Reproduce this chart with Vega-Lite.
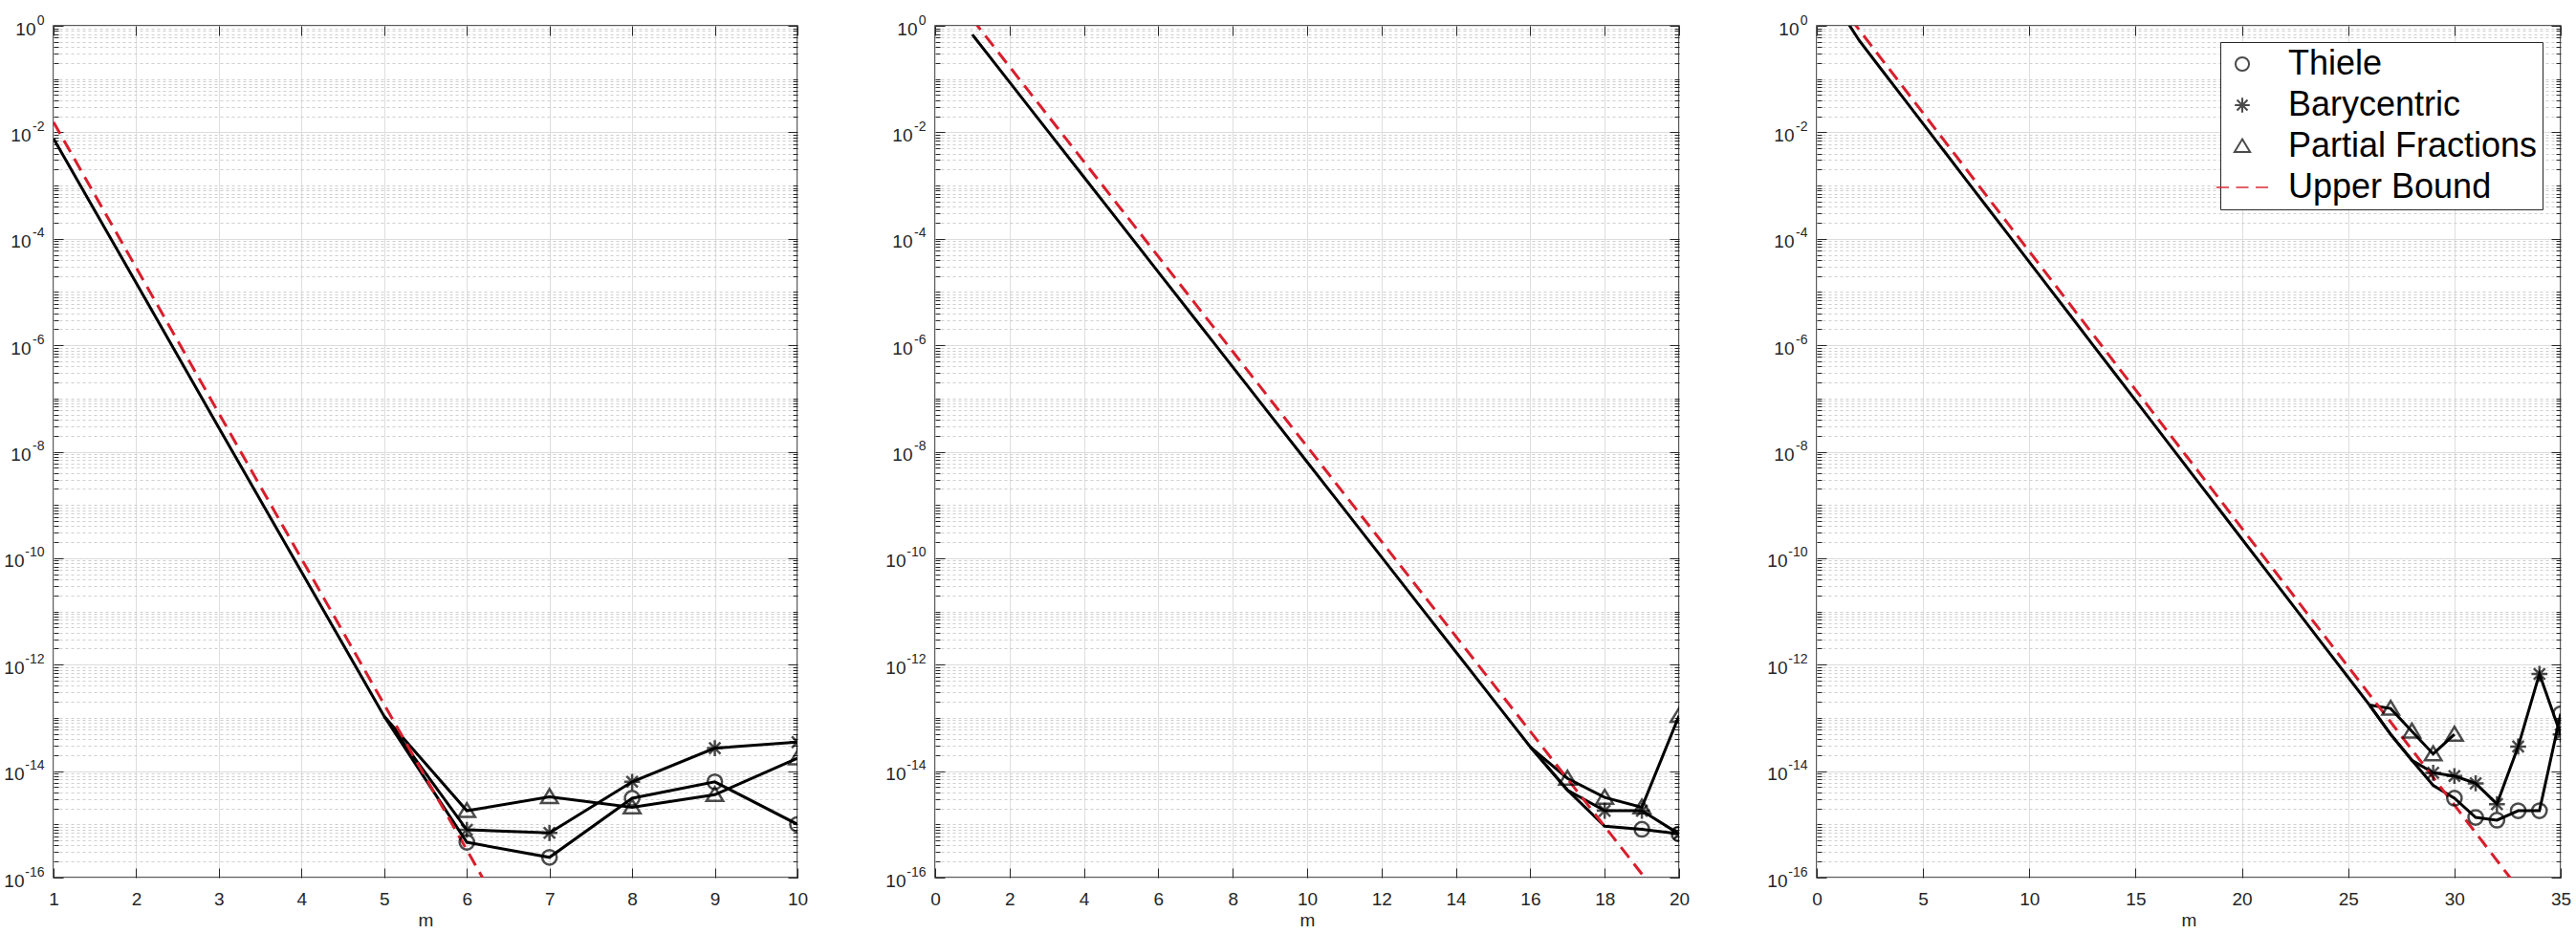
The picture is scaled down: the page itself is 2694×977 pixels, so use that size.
{
  "$schema": "https://vega.github.io/schema/vega-lite/v6.json",
  "background": "#ffffff",
  "padding": {"left": 3, "top": 13, "right": 10, "bottom": 5},
  "bounds": "flush",
  "spacing": 144,
  "config": {
    "view": {"stroke": "#262626", "strokeWidth": 1.5},
    "font": "Liberation Sans",
    "axis": {"labelFont": "Liberation Sans", "labelFontSize": 19, "labelColor": "#262626", "titleFont": "Liberation Sans", "titleFontSize": 19, "titleFontWeight": "normal", "titleColor": "#262626", "tickColor": "#262626", "tickWidth": 1, "domain": false, "labelFlush": false, "labelOverlap": false, "gridColor": "#dedede", "gridWidth": 1}
  },
  "datasets": {
    "curves": [
      {"panel":1,"method":"All","m":1,"err":7.6e-3},{"panel":1,"method":"All","m":2,"err":1.48e-5},{"panel":1,"method":"All","m":3,"err":2.82e-8},{"panel":1,"method":"All","m":4,"err":5.5e-11},{"panel":1,"method":"All","m":5,"err":1.07e-13},
      {"panel":1,"method":"Thiele","m":5,"err":1.07e-13},{"panel":1,"method":"Thiele","m":6,"err":4.6e-16},{"panel":1,"method":"Thiele","m":7,"err":2.4e-16},{"panel":1,"method":"Thiele","m":8,"err":3.1e-15},{"panel":1,"method":"Thiele","m":9,"err":6.3e-15},{"panel":1,"method":"Thiele","m":10,"err":1.0e-15},
      {"panel":1,"method":"Barycentric","m":5,"err":1.07e-13},{"panel":1,"method":"Barycentric","m":6,"err":7.9e-16},{"panel":1,"method":"Barycentric","m":7,"err":6.9e-16},{"panel":1,"method":"Barycentric","m":8,"err":6.3e-15},{"panel":1,"method":"Barycentric","m":9,"err":2.7e-14},{"panel":1,"method":"Barycentric","m":10,"err":3.5e-14},
      {"panel":1,"method":"Partial Fractions","m":5,"err":1.07e-13},{"panel":1,"method":"Partial Fractions","m":6,"err":1.8e-15},{"panel":1,"method":"Partial Fractions","m":7,"err":3.3e-15},{"panel":1,"method":"Partial Fractions","m":8,"err":2.1e-15},{"panel":1,"method":"Partial Fractions","m":9,"err":3.6e-15},{"panel":1,"method":"Partial Fractions","m":10,"err":1.75e-14},
      {"panel":2,"method":"All","m":1,"err":0.684},{"panel":2,"method":"All","m":2,"err":8.77e-2},{"panel":2,"method":"All","m":3,"err":1.12e-2},{"panel":2,"method":"All","m":4,"err":1.44e-3},{"panel":2,"method":"All","m":5,"err":1.85e-4},{"panel":2,"method":"All","m":6,"err":2.37e-5},{"panel":2,"method":"All","m":7,"err":3.04e-6},{"panel":2,"method":"All","m":8,"err":3.9e-7},{"panel":2,"method":"All","m":9,"err":5.0e-8},{"panel":2,"method":"All","m":10,"err":6.41e-9},{"panel":2,"method":"All","m":11,"err":8.22e-10},{"panel":2,"method":"All","m":12,"err":1.05e-10},{"panel":2,"method":"All","m":13,"err":1.35e-11},{"panel":2,"method":"All","m":14,"err":1.73e-12},{"panel":2,"method":"All","m":15,"err":2.22e-13},{"panel":2,"method":"All","m":16,"err":2.85e-14},
      {"panel":2,"method":"Thiele","m":16,"err":2.85e-14},{"panel":2,"method":"Thiele","m":17,"err":4.4e-15},{"panel":2,"method":"Thiele","m":18,"err":9.2e-16},{"panel":2,"method":"Thiele","m":19,"err":8.1e-16},{"panel":2,"method":"Thiele","m":20,"err":6.6e-16},
      {"panel":2,"method":"Barycentric","m":16,"err":2.85e-14},{"panel":2,"method":"Barycentric","m":17,"err":4.4e-15},{"panel":2,"method":"Barycentric","m":18,"err":1.8e-15},{"panel":2,"method":"Barycentric","m":19,"err":1.8e-15},{"panel":2,"method":"Barycentric","m":20,"err":6.6e-16},
      {"panel":2,"method":"Partial Fractions","m":16,"err":2.85e-14},{"panel":2,"method":"Partial Fractions","m":17,"err":7.3e-15},{"panel":2,"method":"Partial Fractions","m":18,"err":3.2e-15},{"panel":2,"method":"Partial Fractions","m":19,"err":2.1e-15},{"panel":2,"method":"Partial Fractions","m":20,"err":1.1e-13},
      {"panel":3,"method":"All","m":1,"err":2.19},{"panel":3,"method":"All","m":2,"err":0.527},{"panel":3,"method":"All","m":3,"err":0.159},{"panel":3,"method":"All","m":4,"err":4.81e-2},{"panel":3,"method":"All","m":5,"err":1.45e-2},{"panel":3,"method":"All","m":6,"err":4.39e-3},{"panel":3,"method":"All","m":7,"err":1.32e-3},{"panel":3,"method":"All","m":8,"err":4.0e-4},{"panel":3,"method":"All","m":9,"err":1.21e-4},{"panel":3,"method":"All","m":10,"err":3.65e-5},{"panel":3,"method":"All","m":11,"err":1.1e-5},{"panel":3,"method":"All","m":12,"err":3.33e-6},{"panel":3,"method":"All","m":13,"err":1.0e-6},{"panel":3,"method":"All","m":14,"err":3.03e-7},{"panel":3,"method":"All","m":15,"err":9.16e-8},{"panel":3,"method":"All","m":16,"err":2.77e-8},{"panel":3,"method":"All","m":17,"err":8.36e-9},{"panel":3,"method":"All","m":18,"err":2.52e-9},{"panel":3,"method":"All","m":19,"err":7.62e-10},{"panel":3,"method":"All","m":20,"err":2.3e-10},{"panel":3,"method":"All","m":21,"err":6.95e-11},{"panel":3,"method":"All","m":22,"err":2.1e-11},{"panel":3,"method":"All","m":23,"err":6.34e-12},{"panel":3,"method":"All","m":24,"err":1.91e-12},{"panel":3,"method":"All","m":25,"err":5.78e-13},{"panel":3,"method":"All","m":26,"err":1.75e-13},
      {"panel":3,"method":"Thiele","m":26,"err":1.75e-13},{"panel":3,"method":"Thiele","m":27,"err":4.9e-14},{"panel":3,"method":"Thiele","m":28,"err":1.6e-14},{"panel":3,"method":"Thiele","m":29,"err":5.4e-15},{"panel":3,"method":"Thiele","m":30,"err":3.1e-15},{"panel":3,"method":"Thiele","m":31,"err":1.35e-15},{"panel":3,"method":"Thiele","m":32,"err":1.2e-15},{"panel":3,"method":"Thiele","m":33,"err":1.8e-15},{"panel":3,"method":"Thiele","m":34,"err":1.8e-15},{"panel":3,"method":"Thiele","m":35,"err":1.2e-13},
      {"panel":3,"method":"Barycentric","m":26,"err":1.75e-13},{"panel":3,"method":"Barycentric","m":27,"err":4.9e-14},{"panel":3,"method":"Barycentric","m":28,"err":1.6e-14},{"panel":3,"method":"Barycentric","m":29,"err":9.3e-15},{"panel":3,"method":"Barycentric","m":30,"err":8.1e-15},{"panel":3,"method":"Barycentric","m":31,"err":5.9e-15},{"panel":3,"method":"Barycentric","m":32,"err":2.4e-15},{"panel":3,"method":"Barycentric","m":33,"err":2.9e-14},{"panel":3,"method":"Barycentric","m":34,"err":6.7e-13},{"panel":3,"method":"Barycentric","m":35,"err":4.9e-14},
      {"panel":3,"method":"Partial Fractions","m":26,"err":1.75e-13},{"panel":3,"method":"Partial Fractions","m":27,"err":1.5e-13},{"panel":3,"method":"Partial Fractions","m":28,"err":5.6e-14},{"panel":3,"method":"Partial Fractions","m":29,"err":2.1e-14},{"panel":3,"method":"Partial Fractions","m":30,"err":4.9e-14}
    ],
    "marks": [
      {"panel":1,"method":"Thiele","m":6,"err":4.6e-16},{"panel":1,"method":"Thiele","m":7,"err":2.4e-16},{"panel":1,"method":"Thiele","m":8,"err":3.1e-15},{"panel":1,"method":"Thiele","m":9,"err":6.3e-15},{"panel":1,"method":"Thiele","m":10,"err":1.0e-15},
      {"panel":1,"method":"Barycentric","m":6,"err":7.9e-16},{"panel":1,"method":"Barycentric","m":7,"err":6.9e-16},{"panel":1,"method":"Barycentric","m":8,"err":6.3e-15},{"panel":1,"method":"Barycentric","m":9,"err":2.7e-14},{"panel":1,"method":"Barycentric","m":10,"err":3.5e-14},
      {"panel":1,"method":"Partial Fractions","m":6,"err":1.8e-15},{"panel":1,"method":"Partial Fractions","m":7,"err":3.3e-15},{"panel":1,"method":"Partial Fractions","m":8,"err":2.1e-15},{"panel":1,"method":"Partial Fractions","m":9,"err":3.6e-15},{"panel":1,"method":"Partial Fractions","m":10,"err":1.75e-14},
      {"panel":2,"method":"Thiele","m":19,"err":8.1e-16},{"panel":2,"method":"Thiele","m":20,"err":6.6e-16},
      {"panel":2,"method":"Barycentric","m":18,"err":1.8e-15},{"panel":2,"method":"Barycentric","m":19,"err":1.8e-15},{"panel":2,"method":"Barycentric","m":20,"err":6.6e-16},
      {"panel":2,"method":"Partial Fractions","m":17,"err":7.3e-15},{"panel":2,"method":"Partial Fractions","m":18,"err":3.2e-15},{"panel":2,"method":"Partial Fractions","m":19,"err":2.1e-15},{"panel":2,"method":"Partial Fractions","m":20,"err":1.1e-13},
      {"panel":3,"method":"Thiele","m":30,"err":3.1e-15},{"panel":3,"method":"Thiele","m":31,"err":1.35e-15},{"panel":3,"method":"Thiele","m":32,"err":1.2e-15},{"panel":3,"method":"Thiele","m":33,"err":1.8e-15},{"panel":3,"method":"Thiele","m":34,"err":1.8e-15},{"panel":3,"method":"Thiele","m":35,"err":1.2e-13},
      {"panel":3,"method":"Barycentric","m":29,"err":9.3e-15},{"panel":3,"method":"Barycentric","m":30,"err":8.1e-15},{"panel":3,"method":"Barycentric","m":31,"err":5.9e-15},{"panel":3,"method":"Barycentric","m":32,"err":2.4e-15},{"panel":3,"method":"Barycentric","m":33,"err":2.9e-14},{"panel":3,"method":"Barycentric","m":34,"err":6.7e-13},{"panel":3,"method":"Barycentric","m":35,"err":4.9e-14},
      {"panel":3,"method":"Partial Fractions","m":27,"err":1.5e-13},{"panel":3,"method":"Partial Fractions","m":28,"err":5.6e-14},{"panel":3,"method":"Partial Fractions","m":29,"err":2.1e-14},{"panel":3,"method":"Partial Fractions","m":30,"err":4.9e-14}
    ],
    "bound": [
      {"panel":1,"m":1,"err":1.55e-2},{"panel":1,"m":2,"err":2.86e-5},{"panel":1,"m":3,"err":5.27e-8},{"panel":1,"m":4,"err":9.73e-11},{"panel":1,"m":5,"err":1.79e-13},{"panel":1,"m":6,"err":3.31e-16},{"panel":1,"m":7,"err":6.1e-19},
      {"panel":2,"m":1,"err":1.33},{"panel":2,"m":2,"err":0.171},{"panel":2,"m":3,"err":2.19e-2},{"panel":2,"m":4,"err":2.81e-3},{"panel":2,"m":5,"err":3.61e-4},{"panel":2,"m":6,"err":4.62e-5},{"panel":2,"m":7,"err":5.93e-6},{"panel":2,"m":8,"err":7.6e-7},{"panel":2,"m":9,"err":9.75e-8},{"panel":2,"m":10,"err":1.25e-8},{"panel":2,"m":11,"err":1.6e-9},{"panel":2,"m":12,"err":2.06e-10},{"panel":2,"m":13,"err":2.64e-11},{"panel":2,"m":14,"err":3.38e-12},{"panel":2,"m":15,"err":4.34e-13},{"panel":2,"m":16,"err":5.56e-14},{"panel":2,"m":17,"err":7.13e-15},{"panel":2,"m":18,"err":9.14e-16},{"panel":2,"m":19,"err":1.17e-16},{"panel":2,"m":20,"err":1.5e-17},
      {"panel":3,"m":1,"err":2.77},{"panel":3,"m":2,"err":0.836},{"panel":3,"m":3,"err":0.252},{"panel":3,"m":4,"err":7.62e-2},{"panel":3,"m":5,"err":2.3e-2},{"panel":3,"m":6,"err":6.95e-3},{"panel":3,"m":7,"err":2.1e-3},{"panel":3,"m":8,"err":6.34e-4},{"panel":3,"m":9,"err":1.91e-4},{"panel":3,"m":10,"err":5.78e-5},{"panel":3,"m":11,"err":1.75e-5},{"panel":3,"m":12,"err":5.27e-6},{"panel":3,"m":13,"err":1.59e-6},{"panel":3,"m":14,"err":4.81e-7},{"panel":3,"m":15,"err":1.45e-7},{"panel":3,"m":16,"err":4.39e-8},{"panel":3,"m":17,"err":1.32e-8},{"panel":3,"m":18,"err":4.0e-9},{"panel":3,"m":19,"err":1.21e-9},{"panel":3,"m":20,"err":3.65e-10},{"panel":3,"m":21,"err":1.1e-10},{"panel":3,"m":22,"err":3.33e-11},{"panel":3,"m":23,"err":1.0e-11},{"panel":3,"m":24,"err":3.03e-12},{"panel":3,"m":25,"err":9.16e-13},{"panel":3,"m":26,"err":2.77e-13},{"panel":3,"m":27,"err":8.36e-14},{"panel":3,"m":28,"err":2.52e-14},{"panel":3,"m":29,"err":7.62e-15},{"panel":3,"m":30,"err":2.3e-15},{"panel":3,"m":31,"err":6.95e-16},{"panel":3,"m":32,"err":2.1e-16},{"panel":3,"m":33,"err":6.34e-17}
    ]
  },
  "resolve": {"scale": {"x": "independent", "y": "independent", "shape": "independent", "stroke": "independent"}},
  "hconcat": [
    {
      "width": 778, "height": 891,
      "resolve": {"axis": {"x": "independent", "y": "independent"}},
      "layer": [
        {
          "data": {"name": "curves"},
          "transform": [{"filter": "datum.panel === 1 && datum.method === 'All'"}],
          "mark": {"type": "line", "clip": true, "color": "#000000", "strokeWidth": 3},
          "encoding": {
            "x": {"field": "m", "type": "quantitative", "scale": {"domain": [1, 10], "nice": false, "zero": false}, "axis": {"orient": "bottom", "values": [1,2,3,4,5,6,7,8,9,10], "ticks": false, "grid": false, "labelPadding": 13, "title": "m", "titlePadding": 3, "labelFlush": false, "labelOverlap": false}},
            "y": {"field": "err", "type": "quantitative", "scale": {"type": "log", "domain": [1e-16, 1], "nice": false}, "axis": {"orient": "left", "values": [1e-16,1e-14,1e-12,1e-10,1e-8,1e-6,1e-4,1e-2,1], "labelExpr": "'10'", "ticks": false, "grid": false, "labelAlign": "right", "labelBaseline": "middle", "labelOffset": 3, "labelPadding": {"condition": [{"test": "datum.value > 0.5", "value": 19}, {"test": "datum.value > 5e-10", "value": 24}], "value": 31}, "title": null, "labelFlush": false, "labelOverlap": false}}
          }
        },
        {
          "data": {"name": "curves"},
          "transform": [{"filter": "datum.panel === 1 && datum.method !== 'All'"}],
          "mark": {"type": "line", "clip": true, "color": "#000000", "strokeWidth": 3},
          "encoding": {
            "x": {"field": "m", "type": "quantitative", "scale": {"domain": [1, 10], "nice": false, "zero": false}, "axis": {"orient": "top", "values": [1,2,3,4,5,6,7,8,9,10], "grid": false, "tickSize": -10, "labels": false, "title": null}},
            "y": {"field": "err", "type": "quantitative", "scale": {"type": "log", "domain": [1e-16, 1], "nice": false}, "axis": {"orient": "right", "tickCount": 200, "grid": false, "labels": false, "title": null, "tickSize": {"condition": {"test": "abs(log(datum.value)/LN10 - round(log(datum.value)/LN10)) < 0.001 && round(log(datum.value)/LN10) % 2 === 0", "value": -10}, "value": -5}}},
            "detail": {"field": "method"}
          }
        },
        {
          "data": {"name": "bound"},
          "transform": [{"filter": "datum.panel === 1"}],
          "mark": {"type": "line", "clip": true, "color": "#d81e2c", "strokeWidth": 3, "strokeDash": [14, 8]},
          "encoding": {
            "x": {"field": "m", "type": "quantitative", "scale": {"domain": [1, 10], "nice": false, "zero": false}, "axis": {"orient": "bottom", "values": [1,2,3,4,5,6,7,8,9,10], "grid": true, "tickSize": -10, "labels": false, "title": null}},
            "y": {"field": "err", "type": "quantitative", "scale": {"type": "log", "domain": [1e-16, 1], "nice": false}, "axis": {"orient": "left", "tickCount": 200, "grid": true, "labels": false, "title": null, "gridDash": {"condition": {"test": "abs(log(datum.value)/LN10 - round(log(datum.value)/LN10)) < 0.001 && round(log(datum.value)/LN10) % 2 === 0", "value": []}, "value": [3, 3]}, "gridColor": {"condition": {"test": "abs(log(datum.value)/LN10 - round(log(datum.value)/LN10)) < 0.001 && round(log(datum.value)/LN10) % 2 === 0", "value": "#dcdcdc"}, "value": "#cfcfcf"}, "tickSize": {"condition": {"test": "abs(log(datum.value)/LN10 - round(log(datum.value)/LN10)) < 0.001 && round(log(datum.value)/LN10) % 2 === 0", "value": -10}, "value": -5}}}
          }
        },
        {
          "data": {"name": "marks"},
          "transform": [{"filter": "datum.panel === 1"}],
          "mark": {"type": "point", "clip": true, "filled": false, "size": 230, "strokeWidth": 2.5},
          "encoding": {
            "x": {"field": "m", "type": "quantitative", "scale": {"domain": [1, 10], "nice": false, "zero": false}, "axis": null},
            "y": {"field": "err", "type": "quantitative", "scale": {"type": "log", "domain": [1e-16, 1], "nice": false}, "axis": {"orient": "left", "values": [1e-16,1e-14,1e-12,1e-10,1e-8,1e-6,1e-4,1e-2,1], "labelExpr": "'' + round(log(datum.value)/LN10)", "ticks": false, "grid": false, "labelAlign": "right", "labelBaseline": "middle", "labelFontSize": 14, "labelOffset": -6, "labelPadding": 10, "title": null, "labelFlush": false, "labelOverlap": false}},
            "shape": {"field": "method", "type": "nominal", "scale": {"domain": ["Thiele", "Barycentric", "Partial Fractions", "Upper Bound"], "range": ["circle", "M-1.1,0L1.1,0M0,-1.1L0,1.1M-0.78,-0.78L0.78,0.78M-0.78,0.78L0.78,-0.78", "M0,-1.05L1.15,0.85L-1.15,0.85Z", "M-3.82,0L-1.98,0M-0.92,0L0.92,0M1.98,0L3.82,0"]}, "legend": null},
            "stroke": {"field": "method", "type": "nominal", "scale": {"domain": ["Thiele", "Barycentric", "Partial Fractions", "Upper Bound"], "range": ["#000000", "#000000", "#000000", "#d81e2c"]}, "legend": null}
          }
        }
      ]
    },
    {
      "width": 778, "height": 891,
      "resolve": {"axis": {"x": "independent", "y": "independent"}},
      "layer": [
        {
          "data": {"name": "curves"},
          "transform": [{"filter": "datum.panel === 2 && datum.method === 'All'"}],
          "mark": {"type": "line", "clip": true, "color": "#000000", "strokeWidth": 3},
          "encoding": {
            "x": {"field": "m", "type": "quantitative", "scale": {"domain": [0, 20], "nice": false, "zero": false}, "axis": {"orient": "bottom", "values": [0,2,4,6,8,10,12,14,16,18,20], "ticks": false, "grid": false, "labelPadding": 13, "title": "m", "titlePadding": 3, "labelFlush": false, "labelOverlap": false}},
            "y": {"field": "err", "type": "quantitative", "scale": {"type": "log", "domain": [1e-16, 1], "nice": false}, "axis": {"orient": "left", "values": [1e-16,1e-14,1e-12,1e-10,1e-8,1e-6,1e-4,1e-2,1], "labelExpr": "'10'", "ticks": false, "grid": false, "labelAlign": "right", "labelBaseline": "middle", "labelOffset": 3, "labelPadding": {"condition": [{"test": "datum.value > 0.5", "value": 19}, {"test": "datum.value > 5e-10", "value": 24}], "value": 31}, "title": null, "labelFlush": false, "labelOverlap": false}}
          }
        },
        {
          "data": {"name": "curves"},
          "transform": [{"filter": "datum.panel === 2 && datum.method !== 'All'"}],
          "mark": {"type": "line", "clip": true, "color": "#000000", "strokeWidth": 3},
          "encoding": {
            "x": {"field": "m", "type": "quantitative", "scale": {"domain": [0, 20], "nice": false, "zero": false}, "axis": {"orient": "top", "values": [0,2,4,6,8,10,12,14,16,18,20], "grid": false, "tickSize": -10, "labels": false, "title": null}},
            "y": {"field": "err", "type": "quantitative", "scale": {"type": "log", "domain": [1e-16, 1], "nice": false}, "axis": {"orient": "right", "tickCount": 200, "grid": false, "labels": false, "title": null, "tickSize": {"condition": {"test": "abs(log(datum.value)/LN10 - round(log(datum.value)/LN10)) < 0.001 && round(log(datum.value)/LN10) % 2 === 0", "value": -10}, "value": -5}}},
            "detail": {"field": "method"}
          }
        },
        {
          "data": {"name": "bound"},
          "transform": [{"filter": "datum.panel === 2"}],
          "mark": {"type": "line", "clip": true, "color": "#d81e2c", "strokeWidth": 3, "strokeDash": [14, 8]},
          "encoding": {
            "x": {"field": "m", "type": "quantitative", "scale": {"domain": [0, 20], "nice": false, "zero": false}, "axis": {"orient": "bottom", "values": [0,2,4,6,8,10,12,14,16,18,20], "grid": true, "tickSize": -10, "labels": false, "title": null}},
            "y": {"field": "err", "type": "quantitative", "scale": {"type": "log", "domain": [1e-16, 1], "nice": false}, "axis": {"orient": "left", "tickCount": 200, "grid": true, "labels": false, "title": null, "gridDash": {"condition": {"test": "abs(log(datum.value)/LN10 - round(log(datum.value)/LN10)) < 0.001 && round(log(datum.value)/LN10) % 2 === 0", "value": []}, "value": [3, 3]}, "gridColor": {"condition": {"test": "abs(log(datum.value)/LN10 - round(log(datum.value)/LN10)) < 0.001 && round(log(datum.value)/LN10) % 2 === 0", "value": "#dcdcdc"}, "value": "#cfcfcf"}, "tickSize": {"condition": {"test": "abs(log(datum.value)/LN10 - round(log(datum.value)/LN10)) < 0.001 && round(log(datum.value)/LN10) % 2 === 0", "value": -10}, "value": -5}}}
          }
        },
        {
          "data": {"name": "marks"},
          "transform": [{"filter": "datum.panel === 2"}],
          "mark": {"type": "point", "clip": true, "filled": false, "size": 230, "strokeWidth": 2.5},
          "encoding": {
            "x": {"field": "m", "type": "quantitative", "scale": {"domain": [0, 20], "nice": false, "zero": false}, "axis": null},
            "y": {"field": "err", "type": "quantitative", "scale": {"type": "log", "domain": [1e-16, 1], "nice": false}, "axis": {"orient": "left", "values": [1e-16,1e-14,1e-12,1e-10,1e-8,1e-6,1e-4,1e-2,1], "labelExpr": "'' + round(log(datum.value)/LN10)", "ticks": false, "grid": false, "labelAlign": "right", "labelBaseline": "middle", "labelFontSize": 14, "labelOffset": -6, "labelPadding": 10, "title": null, "labelFlush": false, "labelOverlap": false}},
            "shape": {"field": "method", "type": "nominal", "scale": {"domain": ["Thiele", "Barycentric", "Partial Fractions", "Upper Bound"], "range": ["circle", "M-1.1,0L1.1,0M0,-1.1L0,1.1M-0.78,-0.78L0.78,0.78M-0.78,0.78L0.78,-0.78", "M0,-1.05L1.15,0.85L-1.15,0.85Z", "M-3.82,0L-1.98,0M-0.92,0L0.92,0M1.98,0L3.82,0"]}, "legend": null},
            "stroke": {"field": "method", "type": "nominal", "scale": {"domain": ["Thiele", "Barycentric", "Partial Fractions", "Upper Bound"], "range": ["#000000", "#000000", "#000000", "#d81e2c"]}, "legend": null}
          }
        }
      ]
    },
    {
      "width": 778, "height": 891,
      "resolve": {"axis": {"x": "independent", "y": "independent"}},
      "layer": [
        {
          "data": {"name": "curves"},
          "transform": [{"filter": "datum.panel === 3 && datum.method === 'All'"}],
          "mark": {"type": "line", "clip": true, "color": "#000000", "strokeWidth": 3},
          "encoding": {
            "x": {"field": "m", "type": "quantitative", "scale": {"domain": [0, 35], "nice": false, "zero": false}, "axis": {"orient": "bottom", "values": [0,5,10,15,20,25,30,35], "ticks": false, "grid": false, "labelPadding": 13, "title": "m", "titlePadding": 3, "labelFlush": false, "labelOverlap": false}},
            "y": {"field": "err", "type": "quantitative", "scale": {"type": "log", "domain": [1e-16, 1], "nice": false}, "axis": {"orient": "left", "values": [1e-16,1e-14,1e-12,1e-10,1e-8,1e-6,1e-4,1e-2,1], "labelExpr": "'10'", "ticks": false, "grid": false, "labelAlign": "right", "labelBaseline": "middle", "labelOffset": 3, "labelPadding": {"condition": [{"test": "datum.value > 0.5", "value": 19}, {"test": "datum.value > 5e-10", "value": 24}], "value": 31}, "title": null, "labelFlush": false, "labelOverlap": false}}
          }
        },
        {
          "data": {"name": "curves"},
          "transform": [{"filter": "datum.panel === 3 && datum.method !== 'All'"}],
          "mark": {"type": "line", "clip": true, "color": "#000000", "strokeWidth": 3},
          "encoding": {
            "x": {"field": "m", "type": "quantitative", "scale": {"domain": [0, 35], "nice": false, "zero": false}, "axis": {"orient": "top", "values": [0,5,10,15,20,25,30,35], "grid": false, "tickSize": -10, "labels": false, "title": null}},
            "y": {"field": "err", "type": "quantitative", "scale": {"type": "log", "domain": [1e-16, 1], "nice": false}, "axis": {"orient": "right", "tickCount": 200, "grid": false, "labels": false, "title": null, "tickSize": {"condition": {"test": "abs(log(datum.value)/LN10 - round(log(datum.value)/LN10)) < 0.001 && round(log(datum.value)/LN10) % 2 === 0", "value": -10}, "value": -5}}},
            "detail": {"field": "method"}
          }
        },
        {
          "data": {"name": "bound"},
          "transform": [{"filter": "datum.panel === 3"}],
          "mark": {"type": "line", "clip": true, "color": "#d81e2c", "strokeWidth": 3, "strokeDash": [14, 8]},
          "encoding": {
            "x": {"field": "m", "type": "quantitative", "scale": {"domain": [0, 35], "nice": false, "zero": false}, "axis": {"orient": "bottom", "values": [0,5,10,15,20,25,30,35], "grid": true, "tickSize": -10, "labels": false, "title": null}},
            "y": {"field": "err", "type": "quantitative", "scale": {"type": "log", "domain": [1e-16, 1], "nice": false}, "axis": {"orient": "left", "tickCount": 200, "grid": true, "labels": false, "title": null, "gridDash": {"condition": {"test": "abs(log(datum.value)/LN10 - round(log(datum.value)/LN10)) < 0.001 && round(log(datum.value)/LN10) % 2 === 0", "value": []}, "value": [3, 3]}, "gridColor": {"condition": {"test": "abs(log(datum.value)/LN10 - round(log(datum.value)/LN10)) < 0.001 && round(log(datum.value)/LN10) % 2 === 0", "value": "#dcdcdc"}, "value": "#cfcfcf"}, "tickSize": {"condition": {"test": "abs(log(datum.value)/LN10 - round(log(datum.value)/LN10)) < 0.001 && round(log(datum.value)/LN10) % 2 === 0", "value": -10}, "value": -5}}}
          }
        },
        {
          "data": {"name": "marks"},
          "transform": [{"filter": "datum.panel === 3"}],
          "mark": {"type": "point", "clip": true, "filled": false, "size": 230, "strokeWidth": 2.5},
          "encoding": {
            "x": {"field": "m", "type": "quantitative", "scale": {"domain": [0, 35], "nice": false, "zero": false}, "axis": null},
            "y": {"field": "err", "type": "quantitative", "scale": {"type": "log", "domain": [1e-16, 1], "nice": false}, "axis": {"orient": "left", "values": [1e-16,1e-14,1e-12,1e-10,1e-8,1e-6,1e-4,1e-2,1], "labelExpr": "'' + round(log(datum.value)/LN10)", "ticks": false, "grid": false, "labelAlign": "right", "labelBaseline": "middle", "labelFontSize": 14, "labelOffset": -6, "labelPadding": 10, "title": null, "labelFlush": false, "labelOverlap": false}},
            "shape": {"field": "method", "type": "nominal", "scale": {"domain": ["Thiele", "Barycentric", "Partial Fractions", "Upper Bound"], "range": ["circle", "M-1.1,0L1.1,0M0,-1.1L0,1.1M-0.78,-0.78L0.78,0.78M-0.78,0.78L0.78,-0.78", "M0,-1.05L1.15,0.85L-1.15,0.85Z", "M-3.82,0L-1.98,0M-0.92,0L0.92,0M1.98,0L3.82,0"]},
              "legend": {"title": null, "orient": "none", "legendX": 422, "legendY": 17, "direction": "vertical", "fillColor": "#ffffff", "strokeColor": "#262626", "padding": 5, "labelFont": "Liberation Sans", "labelFontSize": 36, "labelColor": "#000000", "labelLimit": 0, "labelOffset": 30, "symbolSize": 200, "symbolStrokeWidth": 2, "rowPadding": 7}},
            "stroke": {"field": "method", "type": "nominal", "scale": {"domain": ["Thiele", "Barycentric", "Partial Fractions", "Upper Bound"], "range": ["#000000", "#000000", "#000000", "#d81e2c"]},
              "legend": {"title": null, "orient": "none", "legendX": 422, "legendY": 17, "direction": "vertical", "fillColor": "#ffffff", "strokeColor": "#262626", "padding": 5, "labelFont": "Liberation Sans", "labelFontSize": 36, "labelColor": "#000000", "labelLimit": 0, "labelOffset": 30, "symbolSize": 200, "symbolStrokeWidth": 2, "rowPadding": 7}}
          }
        }
      ]
    }
  ]
}
